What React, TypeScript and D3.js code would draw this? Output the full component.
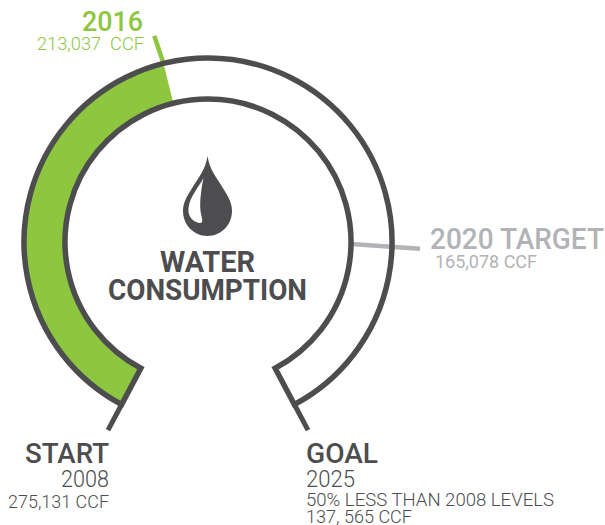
import React from "react";
import * as d3 from "d3";

const START_VALUE = 275131;
const GOAL_VALUE = 137565;
const CURRENT_VALUE = 213037;
const TARGET_VALUE = 165078;

const titleLines = ["WATER", "CONSUMPTION"];
const currentLabels = ["2016", "213,037  CCF"];
const targetLabels = ["2020 TARGET", "165,078 CCF"];
const startLabels = ["START", "2008", "275,131 CCF"];
const goalLabels = ["GOAL", "2025", "50% LESS THAN 2008 LEVELS", "137, 565 CCF"];

const DARK = "#4d4d4f";
const GREEN = "#8dc63f";
const GREY = "#b1b3b6";
const FONT = "Roboto, 'Noto Sans', sans-serif";

const CX = 208;
const CY = 242;
const R_OUT = 184;
const R_IN = 143;
const R_TICK = 213;

const deg = (d: number) => (d * Math.PI) / 180;

const angle = d3
  .scaleLinear()
  .domain([START_VALUE, CURRENT_VALUE, TARGET_VALUE, GOAL_VALUE])
  .range([deg(-152), deg(-14), deg(90.8), deg(152)]);

const polar = (a: number, r: number): [number, number] => [
  CX + r * Math.sin(a),
  CY - r * Math.cos(a),
];

const ringArc = d3.arc().innerRadius(R_IN).outerRadius(R_OUT);

function Tick({ value, r0, r1, color, width, lean = 0 }: { value: number; r0: number; r1: number; color: string; width: number; lean?: number }) {
  const a = angle(value);
  const [x1, y1] = polar(a, r0);
  const [x2, y2] = polar(a + deg(lean), r1);
  return <line x1={x1} y1={y1} x2={x2} y2={y2} stroke={color} strokeWidth={width} />;
}

function Label(props: {
  x: number;
  y: number;
  size: number;
  width: number;
  color: string;
  weight?: number;
  children: string;
}) {
  const { x, y, size, width, color, weight = 400, children } = props;
  return (
    <text
      x={x}
      y={y}
      fontSize={size}
      fontWeight={weight}
      fill={color}
      textLength={width}
      lengthAdjust="spacingAndGlyphs"
      xmlSpace="preserve"
      fontFamily={FONT}
    >
      {children}
    </text>
  );
}

export default function App() {
  return (
    <svg width={605} height={525} style={{ position: "fixed", left: 0, top: 0, background: "#fff" }}>
      <path
        transform={`translate(${CX},${CY})`}
        d={ringArc({ startAngle: angle(START_VALUE), endAngle: angle(CURRENT_VALUE) } as any) as string}
        fill={GREEN}
      />
      <Tick value={CURRENT_VALUE} r0={R_OUT} r1={R_TICK} color={GREEN} width={4.5} lean={-0.6} />
      <Tick value={TARGET_VALUE} r0={R_IN} r1={R_TICK - 1} color={GREY} width={4.5} lean={1} />
      <path
        transform={`translate(${CX},${CY})`}
        d={ringArc({ startAngle: angle(START_VALUE), endAngle: angle(GOAL_VALUE) } as any) as string}
        fill="none"
        stroke={DARK}
        strokeWidth={5.5}
      />
      <Tick value={START_VALUE} r0={R_OUT} r1={R_TICK} color={DARK} width={5} />
      <Tick value={GOAL_VALUE} r0={R_OUT} r1={R_TICK} color={DARK} width={5} />

      <g transform="translate(207.5,156)">
        <path
          d="M0,0 C2,14 10,23 16,33 C21,41 24.5,47 24.5,55 C24.5,69 13.5,80 0,80 C-13.5,80 -24.5,69 -24.5,55 C-24.5,47 -21,41 -16,33 C-10,23 -2,14 0,0 Z"
          fill={DARK}
        />
        <path
          d="M-4,22 C-8,30 -18,41 -19,52 C-20,61 -14,66 -8,67 C-3,67.5 -6,62 -7,55 C-8,44 -6,32 -4,22 Z"
          fill="#fff"
        />
      </g>

      <Label x={160} y={271.5} size={29} width={95} color={DARK} weight={700}>{titleLines[0]}</Label>
      <Label x={108} y={300} size={29} width={199} color={DARK} weight={700}>{titleLines[1]}</Label>

      <Label x={82} y={31} size={27} width={61} color={GREEN} weight={500}>{currentLabels[0]}</Label>
      <Label x={37} y={50} size={18} width={107} color={GREEN} weight={300}>{currentLabels[1]}</Label>

      <Label x={430} y={249} size={29} width={174} color={GREY} weight={500}>{targetLabels[0]}</Label>
      <Label x={435} y={267.5} size={18} width={102} color={GREY}>{targetLabels[1]}</Label>

      <Label x={25} y={463} size={28} width={84} color={DARK} weight={500}>{startLabels[0]}</Label>
      <Label x={61} y={487} size={23} width={48} color={DARK} weight={300}>{startLabels[1]}</Label>
      <Label x={8} y={508} size={18} width={101} color={DARK} weight={300}>{startLabels[2]}</Label>

      <Label x={306} y={463} size={28} width={72} color={DARK} weight={500}>{goalLabels[0]}</Label>
      <Label x={306} y={487} size={23} width={49} color={DARK} weight={300}>{goalLabels[1]}</Label>
      <Label x={306} y={506} size={18} width={248} color={DARK} weight={300}>{goalLabels[2]}</Label>
      <Label x={306} y={523} size={18} width={106} color={DARK} weight={300}>{goalLabels[3]}</Label>
    </svg>
  );
}
